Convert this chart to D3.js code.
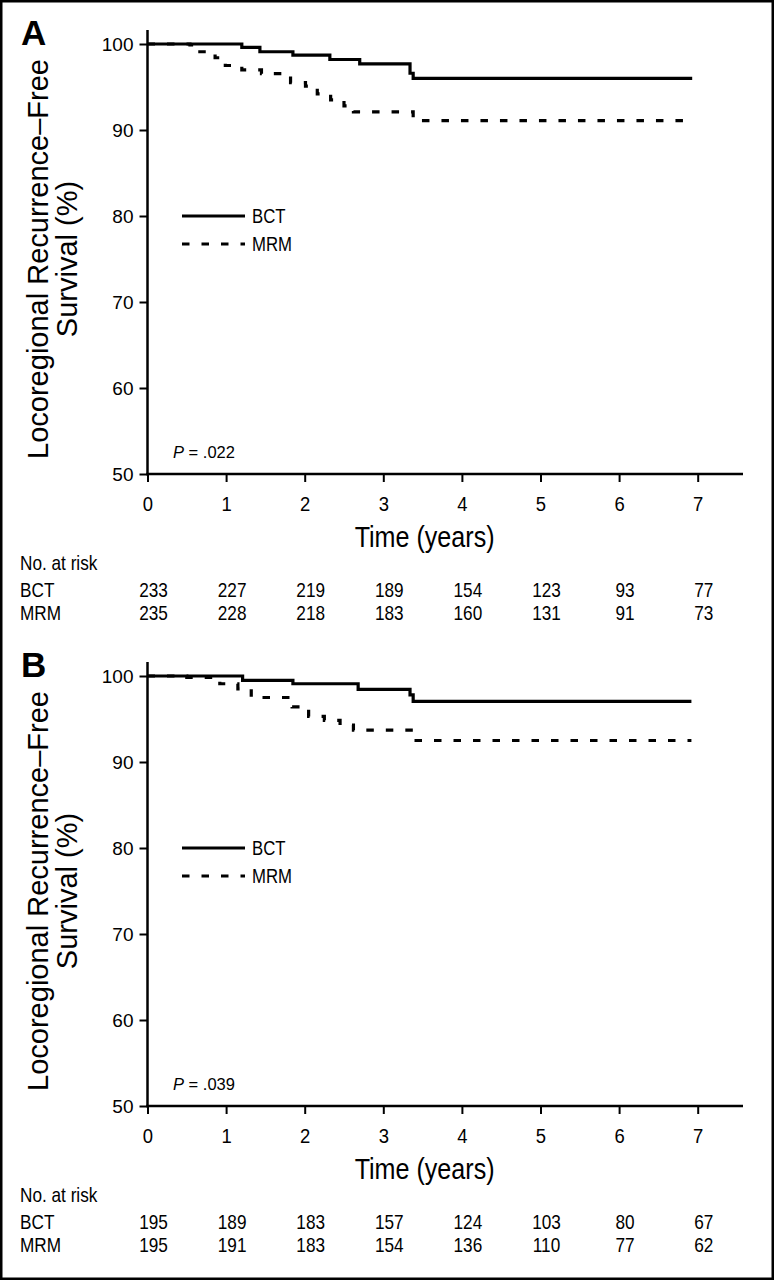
<!DOCTYPE html>
<html><head><meta charset="utf-8">
<script src="https://cdn.jsdelivr.net/npm/d3@7"></script>
<style>
html,body{margin:0;padding:0;background:#fff;}
svg{display:block;}
text{font-family:"Liberation Sans",Arial,sans-serif;fill:#000;}
</style></head>
<body><svg id="chart" width="774" height="1280"></svg>
<script>
// ---- data ----
const panelLabels = ["A", "B"];
const groups = ["BCT", "MRM"];
const timeTicks = [0, 1, 2, 3, 4, 5, 6, 7];
const yTicks = [50, 60, 70, 80, 90, 100];
const pValues = [".022", ".039"];

const aBctTimes = [0, 1.20, 1.43, 1.85, 2.32, 2.70, 3.34, 3.38, 6.93];
const aBctSurv  = [100, 99.6, 99.1, 98.7, 98.2, 97.7, 96.6, 96.0, 96.0];
const aMrmTimes = [0, 0.54, 0.64, 0.86, 0.99, 1.20, 1.45, 1.82, 2.01, 2.16, 2.33, 2.50, 2.62, 3.38, 6.93];
const aMrmSurv  = [100, 99.9, 99.1, 98.4, 97.5, 97.0, 96.55, 95.5, 95.1, 94.2, 93.5, 92.8, 92.1, 91.1, 91.1];

const bBctTimes = [0, 1.21, 1.85, 2.68, 3.34, 3.38, 6.92];
const bBctSurv  = [100, 99.5, 99.1, 98.45, 97.8, 97.05, 97.05];
const bMrmTimes = [0, 0.50, 0.92, 1.15, 1.32, 1.84, 2.05, 2.25, 2.45, 2.62, 3.38, 6.92];
const bMrmSurv  = [100, 99.85, 99.1, 98.5, 97.5, 96.4, 95.3, 94.85, 94.3, 93.7, 92.5, 92.5];

const atRiskA_BCT = [233, 227, 219, 189, 154, 123, 93, 77];
const atRiskA_MRM = [235, 228, 218, 183, 160, 131, 91, 73];
const atRiskB_BCT = [195, 189, 183, 157, 124, 103, 80, 67];
const atRiskB_MRM = [195, 191, 183, 154, 136, 110, 77, 62];

const yLabelLines = ["Locoregional Recurrence\u2013Free", "Survival (%)"];
const xLabel = "Time (years)";

// ---- drawing ----
const svg = d3.select("#chart");
svg.append("rect").attr("x", 1.25).attr("y", 1.25).attr("width", 771.5).attr("height", 1277.5)
  .attr("fill", "none").attr("stroke", "#000").attr("stroke-width", 2.5);

const panels = [
  {label: panelLabels[0], p: pValues[0], series: [[aBctTimes, aBctSurv], [aMrmTimes, aMrmSurv]], risk: [atRiskA_BCT, atRiskA_MRM]},
  {label: panelLabels[1], p: pValues[1], series: [[bBctTimes, bBctSurv], [bMrmTimes, bMrmSurv]], risk: [atRiskB_BCT, atRiskB_MRM]}
];
const panelOffset = 632;
const dashes = [null, "7.5,12"];
const condense = 0.86;

panels.forEach((pd, i) => {
  const g = svg.append("g").attr("transform", `translate(0,${i * panelOffset})`);
  const x = d3.scaleLinear().domain([0, 7]).range([147.5, 697.7]);
  const y = d3.scaleLinear().domain([50, 100]).range([474, 44]);

  // panel letter
  g.append("text").attr("x", 21).attr("y", 45).text(pd.label)
    .attr("font-weight", "bold").attr("font-size", 35);

  // axis lines
  g.append("line").attr("x1", x(0)).attr("x2", x(0)).attr("y1", 30).attr("y2", y(50) + 1.2)
    .attr("stroke", "#000").attr("stroke-width", 2.5);
  g.append("line").attr("x1", x(0) - 1.2).attr("x2", 743).attr("y1", y(50)).attr("y2", y(50))
    .attr("stroke", "#000").attr("stroke-width", 2.5);

  const yAxis = d3.axisLeft(y).tickValues(yTicks).tickSize(8).tickPadding(6).tickSizeOuter(0);
  const ya = g.append("g").attr("transform", `translate(${x(0)},0)`).call(yAxis);
  ya.select(".domain").remove();
  ya.selectAll(".tick line").attr("stroke", "#000").attr("stroke-width", 2);
  ya.selectAll(".tick text").attr("font-family", null).attr("font-size", 19).attr("fill", "#000");

  const xAxis = d3.axisBottom(x).tickValues(timeTicks).tickFormat(d3.format("d"))
    .tickSize(8).tickPadding(14).tickSizeOuter(0);
  const xa = g.append("g").attr("transform", `translate(0,${y(50)})`).call(xAxis);
  xa.select(".domain").remove();
  xa.selectAll(".tick line").attr("stroke", "#000").attr("stroke-width", 2);
  xa.selectAll(".tick text").attr("font-family", null).attr("font-size", 20.5).attr("fill", "#000")
    .attr("transform", "scale(0.9,1)");

  // y label (two lines, condensed)
  const yl = g.append("text")
    .attr("text-anchor", "middle").attr("font-size", 29);
  yLabelLines.forEach((t, k) => {
    yl.append("tspan").attr("x", 0).attr("dy", k === 0 ? "0.35em" : "1.0em").text(t);
  });
  const firstLen = yl.select("tspan").node().getComputedTextLength();
  const kY = 400 / firstLen;
  yl.attr("transform", `translate(38,${(y(50) + y(100)) / 2}) rotate(-90) scale(${kY},1)`);

  // x label (condensed)
  const xl = g.append("text").attr("text-anchor", "middle").attr("font-size", 29).text(xLabel);
  const kX = 140 / xl.node().getComputedTextLength();
  xl.attr("transform", `translate(${(x(0) + x(7)) / 2 + 2},547) scale(${kX},1)`);

  // curves
  const line = d3.line().x(d => x(d[0])).y(d => y(d[1])).curve(d3.curveStepAfter);
  pd.series.forEach((s, k) => {
    const pts = s[0].map((t, j) => [t, s[1][j]]);
    g.append("path").attr("d", line(pts)).attr("fill", "none").attr("stroke", "#000")
      .attr("stroke-width", 3.2).attr("stroke-dasharray", dashes[k]);
  });

  // legend
  groups.forEach((name, k) => {
    const ly = y(80) + k * 28;
    g.append("line").attr("x1", 182).attr("x2", 245).attr("y1", ly).attr("y2", ly)
      .attr("stroke", "#000").attr("stroke-width", 3.2).attr("stroke-dasharray", dashes[k]);
    g.append("text").attr("transform", `translate(252,${ly + 7}) scale(${condense},1)`)
      .attr("font-size", 19.5).text(name);
  });

  // P value
  const pt = g.append("text").attr("x", 173).attr("y", 458).attr("font-size", 16.5);
  pt.append("tspan").attr("font-style", "italic").text("P");
  pt.append("tspan").text(" = " + pd.p);

  // at risk table
  g.append("text").attr("transform", `translate(20,570) scale(${condense},1)`)
    .attr("font-size", 20).text("No. at risk");
  groups.forEach((name, k) => {
    const ry = 597 + k * 23;
    g.append("text").attr("transform", `translate(20,${ry}) scale(${condense},1)`)
      .attr("font-size", 20).text(name);
    pd.risk[k].forEach((v, j) => {
      g.append("text").attr("transform", `translate(${x(timeTicks[j]) + 6},${ry}) scale(${condense},1)`)
        .attr("text-anchor", "middle").attr("font-size", 20).text(v);
    });
  });
});
</script></body></html>
